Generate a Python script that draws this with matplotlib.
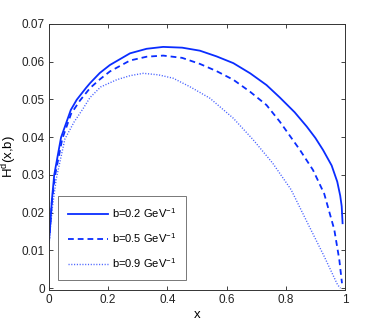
import matplotlib
matplotlib.use("Agg")

import matplotlib.pyplot as plt

plt.rcParams["font.family"] = ["Liberation Sans", "DejaVu Sans"]
plt.rcParams["mathtext.fontset"] = "custom"
plt.rcParams["mathtext.rm"] = "Liberation Sans"

# ── Data ─────────────────────────────────────────────────────────────────
x_b02 = [0.0, 0.0034, 0.010, 0.018, 0.041, 0.074, 0.094, 0.125, 0.139, 0.172,
         0.206, 0.274, 0.33, 0.386, 0.45, 0.51, 0.566, 0.623, 0.68, 0.735,
         0.78, 0.83, 0.871, 0.90, 0.926, 0.955, 0.974, 0.984, 0.989, 0.992]
h_b02 = [0.0124, 0.0154, 0.0233, 0.0300, 0.0399, 0.0472, 0.0499, 0.0530, 0.0543, 0.0570,
         0.0591, 0.0622, 0.0634, 0.0639, 0.0637, 0.0629, 0.0614, 0.0596, 0.0569, 0.0538,
         0.0505, 0.0466, 0.0428, 0.0398, 0.0366, 0.0325, 0.0282, 0.0245, 0.0217, 0.0172]

x_b05 = [0.0, 0.004, 0.010, 0.02, 0.045, 0.075, 0.105, 0.139, 0.172, 0.206,
         0.274, 0.33, 0.386, 0.45, 0.51, 0.566, 0.623, 0.68, 0.735, 0.78,
         0.848, 0.892, 0.93, 0.964, 0.981, 0.99]
h_b05 = [0.0120, 0.0160, 0.0228, 0.0295, 0.0395, 0.0462, 0.0497, 0.0530, 0.0553, 0.0574,
         0.0603, 0.0613, 0.0616, 0.0610, 0.0594, 0.0575, 0.0552, 0.0520, 0.0485, 0.0441,
         0.0366, 0.0313, 0.0250, 0.0155, 0.0075, 0.0013]

x_b09 = [0.0, 0.004, 0.012, 0.025, 0.054, 0.085, 0.115, 0.139, 0.175, 0.229,
         0.275, 0.319, 0.37, 0.42, 0.48, 0.544, 0.623, 0.69, 0.756, 0.818,
         0.874, 0.93, 0.975, 0.985]
h_b09 = [0.0110, 0.0150, 0.0215, 0.0290, 0.0395, 0.0440, 0.0475, 0.0505, 0.0533, 0.0552,
         0.0563, 0.0569, 0.0565, 0.0556, 0.0532, 0.0503, 0.0450, 0.0393, 0.0331, 0.0261,
         0.0172, 0.0084, 0.0009, 0.0000]

labels = [r"b=0.2 GeV$^{-1}$", r"b=0.5 GeV$^{-1}$", r"b=0.9 GeV$^{-1}$"]

x_ticks = [0, 0.2, 0.4, 0.6, 0.8, 1]
x_ticklabels = ["0", "0.2", "0.4", "0.6", "0.8", "1"]
y_ticks = [0, 0.01, 0.02, 0.03, 0.04, 0.05, 0.06, 0.07]
y_ticklabels = ["0", "0.01", "0.02", "0.03", "0.04", "0.05", "0.06", "0.07"]


def main():
    fig = plt.figure(figsize=(3.82, 3.27), dpi=100)
    ax = fig.add_axes([0.128, 0.113, 0.775, 0.814])

    blue = "#0a2dff"
    ax.plot(x_b02, h_b02, color=blue, lw=1.3, ls="-", label=labels[0])
    ax.plot(x_b05, h_b05, color=blue, lw=1.3, ls=(0, (3.2, 2.2)), label=labels[1])
    ax.plot(x_b09, h_b09, color=blue, lw=1.0, ls=(0, (0.8, 1.2)), alpha=0.75, label=labels[2])

    ax.set_xlim(0, 1)
    ax.set_ylim(-0.0005, 0.07)
    ax.set_xticks(x_ticks)
    ax.set_xticklabels(x_ticklabels)
    ax.set_yticks(y_ticks)
    ax.set_yticklabels(y_ticklabels)
    ax.tick_params(direction="in", top=True, right=True, length=3, width=0.6,
                   labelsize=8.5, colors="#222222", pad=3)
    for sp in ax.spines.values():
        sp.set_linewidth(0.7)
        sp.set_color("#333333")

    ax.set_xlabel("x", fontsize=9.5, labelpad=2)
    ax.set_ylabel(r"H$^{\rm d}$(x,b)", fontsize=9.5, labelpad=2)

    leg = ax.legend(loc="lower left", bbox_to_anchor=(0.03, 0.038), fontsize=8,
                    frameon=True, fancybox=False, handlelength=3.6,
                    handletextpad=0.4, labelspacing=1.0, borderpad=0.9,
                    borderaxespad=0)
    leg.get_frame().set_edgecolor("#555555")
    leg.get_frame().set_linewidth(0.7)

    fig.savefig("out.png", dpi=100)


if __name__ == "__main__":
    main()
